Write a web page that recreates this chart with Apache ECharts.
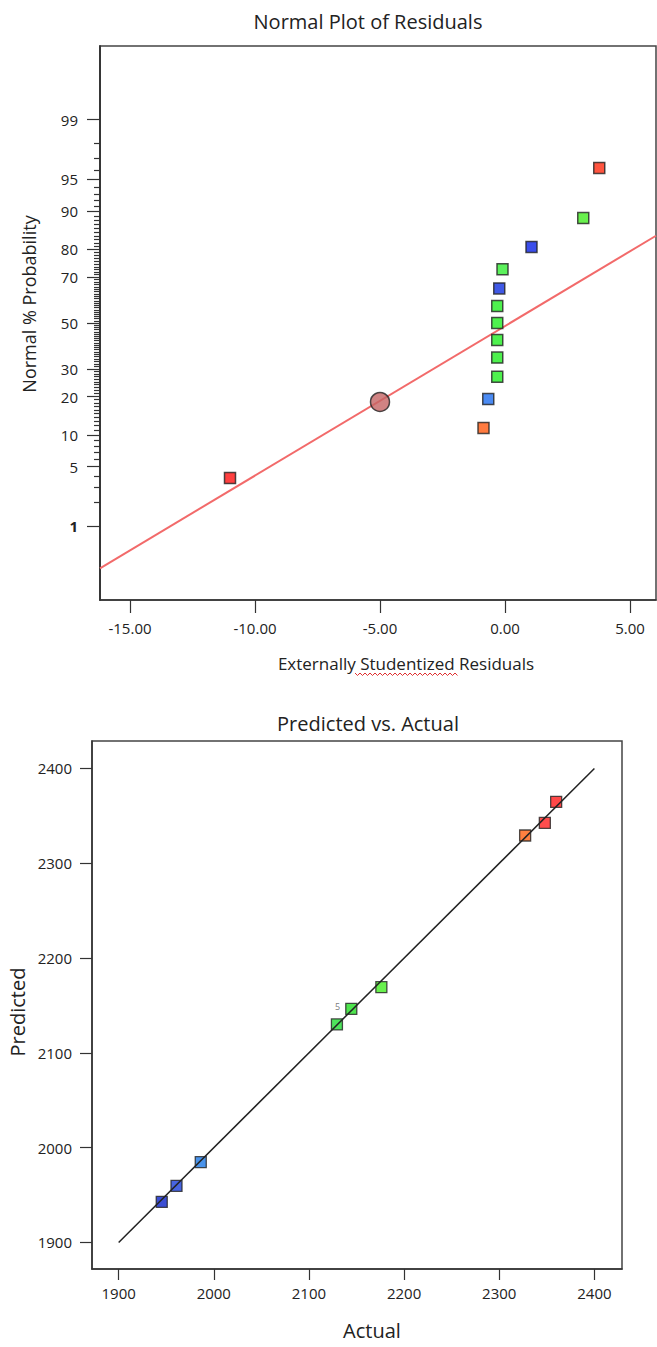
<!DOCTYPE html>
<html>
<head>
<meta charset="utf-8">
<script src="https://cdn.jsdelivr.net/npm/echarts@6/dist/echarts.min.js"></script>
<style>
html,body{margin:0;padding:0;background:#fff;}
#chart{width:657px;height:1347px;}
</style>
</head>
<body>
<div id="chart"></div>
<script>
// ---------- Data: Normal plot of residuals ----------
const residX = [-11.0, -0.86, -0.67, -0.31, -0.31, -0.31, -0.31, -0.31, -0.23, -0.10, 1.06, 3.13, 3.77];
const residProb = [3.8, 11.5, 19.2, 26.9, 34.6, 42.3, 50.0, 57.7, 65.4, 73.1, 80.8, 88.5, 96.2];
const residColors = ['#ff1010', '#ff5a10', '#1e6ef0', '#22ee22', '#22ee22', '#22ee22', '#22ee22', '#22ee22', '#1030e0', '#33ee33', '#0a22e6', '#44ee22', '#ff2a10'];
const circleX = [-5.0];
const circleProb = [18.3];
const normLineX = [-16.2, 6.04];
const normLineProb = [0.25, 84.1];
const probMajorLabels = [1, 5, 10, 20, 30, 50, 70, 80, 90, 95, 99];
const residTicks = [-15, -10, -5, 0, 5];

// ---------- Data: Predicted vs. Actual ----------
const actual = [1945.3, 1960.8, 1986.3, 2129.4, 2144.5, 2176.1, 2327.2, 2347.9, 2359.8];
const predicted = [1942.8, 1959.7, 1984.7, 2130.0, 2146.4, 2169.3, 2329.3, 2342.6, 2364.8];
const pvaColors = ['#0a22c8', '#1a3fd8', '#1c78e6', '#22dd33', '#22dd22', '#44ee22', '#ff6010', '#ff2020', '#ff1a1a'];
const pvaCounts = ['', '', '', '', '5', '', '', '', ''];
const fitLine = [1900, 2400];
const pvaTicks = [1900, 2000, 2100, 2200, 2300, 2400];

// inverse normal CDF (probability scale transform)
function probit(p) {
  const a=[-3.969683028665376e+01,2.209460984245205e+02,-2.759285104469687e+02,1.383577518672690e+02,-3.066479806614716e+01,2.506628277459239e+00];
  const b=[-5.447609879822406e+01,1.615858368580409e+02,-1.556989798598866e+02,6.680131188771972e+01,-1.328068155288572e+01];
  const c=[-7.784894002430293e-03,-3.223964580411365e-01,-2.400758277161838e+00,-2.549732539343734e+00,4.374664141464968e+00,2.938163982698783e+00];
  const d=[7.784695709041462e-03,3.224671290700398e-01,2.445134137142996e+00,3.754408661907416e+00];
  const plow=0.02425, phigh=1-plow;
  let q, r;
  if (p < plow) {
    q = Math.sqrt(-2*Math.log(p));
    return (((((c[0]*q+c[1])*q+c[2])*q+c[3])*q+c[4])*q+c[5])/((((d[0]*q+d[1])*q+d[2])*q+d[3])*q+1);
  } else if (p <= phigh) {
    q = p-0.5; r = q*q;
    return (((((a[0]*r+a[1])*r+a[2])*r+a[3])*r+a[4])*r+a[5])*q/(((((b[0]*r+b[1])*r+b[2])*r+b[3])*r+b[4])*r+1);
  } else {
    q = Math.sqrt(-2*Math.log(1-p));
    return -(((((c[0]*q+c[1])*q+c[2])*q+c[3])*q+c[4])*q+c[5])/((((d[0]*q+d[1])*q+d[2])*q+d[3])*q+1);
  }
}
const z = pct => probit(pct/100);

// minor probability ticks: every whole percent 2..98 not labelled
const probMinor = [];
for (let k = 2; k <= 98; k++) if (probMajorLabels.indexOf(k) < 0) probMinor.push(k);

const FONT = '"Open Sans", "Noto Sans", sans-serif';
const TXT = '#222';

const majorZ = probMajorLabels.map(z);
function probLabel(v) {
  let best = 0, bd = 1e9;
  majorZ.forEach((m, i) => { const dd = Math.abs(m - v); if (dd < bd) { bd = dd; best = i; } });
  const p = probMajorLabels[best];
  return p === 1 ? '{b|1}' : String(p);
}

// decorative spell-check squiggle under "Studentized"
const squiggle = [];
for (let xx = 355, k = 0; xx <= 458; xx += 2.5, k++) squiggle.push([xx, 674 + (k % 2 ? 1.5 : -1)]);

const axisLineStyle = { color: '#333', width: 1.5 };

const option = {
  animation: false,
  backgroundColor: '#fff',
  grid: [
    { left: 100, top: 46, width: 556, height: 554, show: true, borderColor: '#444', borderWidth: 1.5, containLabel: false },
    { left: 92, top: 741, width: 530, height: 528, show: true, borderColor: '#444', borderWidth: 1.5, containLabel: false }
  ],
  xAxis: [
    {
      type: 'value', gridIndex: 0, min: -16.2, max: 6.04, position: 'bottom',
      axisLine: { show: true, onZero: false, lineStyle: axisLineStyle },
      axisTick: { show: true, length: 13, lineStyle: { color: '#333', width: 1.2 }, customValues: residTicks },
      axisLabel: { customValues: residTicks, formatter: v => v.toFixed(2), fontFamily: FONT, fontSize: 15, color: TXT, margin: 20 },
      splitLine: { show: false }
    },
    {
      type: 'value', gridIndex: 1, min: 1872, max: 2429, position: 'bottom',
      axisLine: { show: true, onZero: false, lineStyle: axisLineStyle },
      axisTick: { show: true, length: 11, lineStyle: { color: '#333', width: 1.2 }, customValues: pvaTicks },
      axisLabel: { customValues: pvaTicks, formatter: v => String(v), fontFamily: FONT, fontSize: 15, color: TXT, margin: 16 },
      splitLine: { show: false }
    }
  ],
  yAxis: [
    {
      type: 'value', gridIndex: 0, min: -3.17, max: 3.17, position: 'left',
      axisLine: { show: true, onZero: false, lineStyle: axisLineStyle },
      axisTick: { show: true, length: 13, lineStyle: { color: '#333', width: 1.2 }, customValues: majorZ },
      axisLabel: { customValues: majorZ, formatter: probLabel, fontFamily: FONT, fontSize: 15, color: TXT, margin: 22,
        rich: { b: { fontFamily: FONT, fontSize: 15, fontWeight: 'bold', color: TXT } } },
      splitLine: { show: false }
    },
    {
      type: 'value', gridIndex: 0, min: -3.17, max: 3.17, position: 'left', offset: 0,
      axisLine: { show: true, onZero: false, lineStyle: axisLineStyle },
      axisTick: { show: true, length: 6, lineStyle: { color: '#333', width: 1.2 }, customValues: probMinor.map(z) },
      axisLabel: { show: true, customValues: probMinor.map(z), formatter: () => '' },
      splitLine: { show: false }
    },
    {
      type: 'value', gridIndex: 1, min: 1872, max: 2429, position: 'left',
      axisLine: { show: true, onZero: false, lineStyle: axisLineStyle },
      axisTick: { show: true, length: 12, lineStyle: { color: '#333', width: 1.2 }, customValues: pvaTicks },
      axisLabel: { customValues: pvaTicks, formatter: v => String(v), fontFamily: FONT, fontSize: 15, color: TXT, margin: 20 },
      splitLine: { show: false }
    }
  ],
  series: [
    {
      type: 'line', xAxisIndex: 0, yAxisIndex: 0, z: 2,
      data: normLineX.map((x, i) => [x, z(normLineProb[i])]),
      symbol: 'none', lineStyle: { color: '#f26a6a', width: 2 }, silent: true
    },
    {
      type: 'scatter', xAxisIndex: 0, yAxisIndex: 0, z: 3,
      symbol: 'rect', symbolSize: 11,
      data: residX.map((x, i) => ({ value: [x, z(residProb[i])], itemStyle: { color: residColors[i], borderColor: '#222', borderWidth: 1.5 } }))
    },
    {
      type: 'scatter', xAxisIndex: 0, yAxisIndex: 0, z: 4,
      symbol: 'circle', symbolSize: 19,
      data: circleX.map((x, i) => [x, z(circleProb[i])]),
      itemStyle: { color: '#c46464', borderColor: '#222', borderWidth: 1.5 }
    },
    {
      type: 'scatter', xAxisIndex: 1, yAxisIndex: 2, z: 3,
      symbol: 'rect', symbolSize: 11,
      data: actual.map((x, i) => ({
        value: [x, predicted[i]],
        itemStyle: { color: pvaColors[i], borderColor: '#222', borderWidth: 1.3 },
        label: { show: pvaCounts[i] !== '', formatter: pvaCounts[i], position: 'left', distance: 5, offset: [0, -2], fontFamily: FONT, fontSize: 9, color: '#555' }
      }))
    },
    {
      type: 'line', xAxisIndex: 1, yAxisIndex: 2, z: 5,
      data: [[fitLine[0], fitLine[0]], [fitLine[1], fitLine[1]]],
      symbol: 'none', lineStyle: { color: '#222', width: 1.5 }, silent: true
    }
  ],
  graphic: [
    { type: 'text', x: 368, y: 21, style: { text: 'Normal Plot of Residuals', font: '20px ' + FONT, fill: TXT, textAlign: 'center', textVerticalAlign: 'middle' } },
    { type: 'text', x: 406, y: 663, style: { text: 'Externally Studentized Residuals', font: '17px ' + FONT, fill: TXT, textAlign: 'center', textVerticalAlign: 'middle' } },
    { type: 'text', x: 29, y: 304, rotation: Math.PI / 2, style: { text: 'Normal % Probability', font: '18px ' + FONT, fill: TXT, textAlign: 'center', textVerticalAlign: 'middle' } },
    { type: 'polyline', shape: { points: squiggle }, style: { stroke: '#e03030', lineWidth: 1, fill: null }, silent: true },
    { type: 'text', x: 368, y: 723, style: { text: 'Predicted vs. Actual', font: '20px ' + FONT, fill: TXT, textAlign: 'center', textVerticalAlign: 'middle' } },
    { type: 'text', x: 372, y: 1330, style: { text: 'Actual', font: '20px ' + FONT, fill: TXT, textAlign: 'center', textVerticalAlign: 'middle' } },
    { type: 'text', x: 17, y: 1012, rotation: Math.PI / 2, style: { text: 'Predicted', font: '20px ' + FONT, fill: TXT, textAlign: 'center', textVerticalAlign: 'middle' } }
  ]
};

const chart = echarts.init(document.getElementById('chart'), null, { renderer: 'svg', width: 657, height: 1347 });
chart.setOption(option);
</script>
</body>
</html>
